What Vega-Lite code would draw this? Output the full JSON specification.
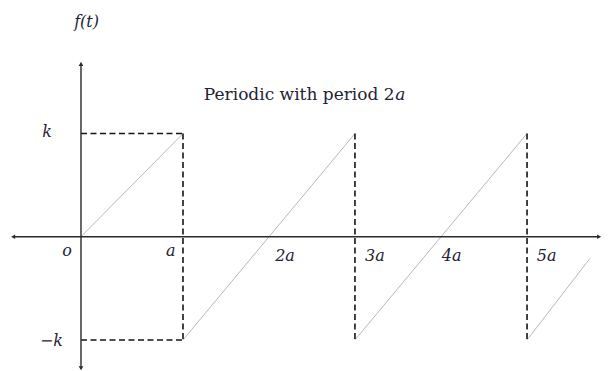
{
  "$schema": "https://vega.github.io/schema/vega-lite/v6.json",
  "width": 612,
  "height": 371,
  "padding": 0,
  "autosize": "none",
  "background": "white",
  "config": {"view": {"stroke": null}},
  "datasets": {
    "axes": [
      {"t": -0.667, "f": 0, "t2": 5.07, "f2": 0},
      {"t": 0, "f": -1.26, "t2": 0, "f2": 1.66}
    ],
    "heads": [
      {"t": 5.08, "f": 0, "dir": "right"},
      {"t": -0.665, "f": 0, "dir": "left"},
      {"t": 0, "f": 1.675, "dir": "up"},
      {"t": 0, "f": -1.275, "dir": "down"}
    ],
    "guides": [
      {"t": 0, "f": 1, "t2": 1, "f2": 1},
      {"t": 1, "f": 1, "t2": 1, "f2": -1},
      {"t": 0, "f": -1, "t2": 1, "f2": -1},
      {"t": 2.686, "f": 1, "t2": 2.686, "f2": -1},
      {"t": 4.373, "f": 1, "t2": 4.373, "f2": -1}
    ],
    "ramps": [
      {"t": 0, "f": 0, "t2": 1, "f2": 1},
      {"t": 1, "f": -1, "t2": 2.686, "f2": 1},
      {"t": 2.686, "f": -1, "t2": 4.373, "f2": 1},
      {"t": 4.373, "f": -1, "t2": 4.99, "f2": -0.21}
    ],
    "ticklabels": [
      {"t": -0.137, "f": -0.14, "label": "o"},
      {"t": 0.879, "f": -0.135, "label": "a"},
      {"t": 2.0, "f": -0.185, "label": "2a"},
      {"t": 2.882, "f": -0.185, "label": "3a"},
      {"t": 3.634, "f": -0.185, "label": "4a"},
      {"t": 4.566, "f": -0.185, "label": "5a"},
      {"t": -0.333, "f": 1.015, "label": "k"},
      {"t": 0.055, "f": 2.08, "label": "f(t)"}
    ],
    "neglabel": [
      {"t": -0.176, "f": -1.01, "label": "−k"}
    ],
    "note": [
      {"t": 3.075, "f": 1.373, "label": "Periodic with period 2"}
    ],
    "notevar": [
      {"t": 3.08, "f": 1.373, "label": "a"}
    ]
  },
  "encoding": {
    "x": {"field": "t", "type": "quantitative", "scale": {"domain": [-0.794, 5.206], "nice": false, "zero": false}, "axis": null},
    "y": {"field": "f", "type": "quantitative", "scale": {"domain": [-1.301, 2.294], "nice": false, "zero": false}, "axis": null}
  },
  "layer": [
    {
      "data": {"name": "ramps"},
      "mark": {"type": "rule", "color": "#b8b8b8", "strokeWidth": 1},
      "encoding": {"x2": {"field": "t2"}, "y2": {"field": "f2"}}
    },
    {
      "data": {"name": "guides"},
      "mark": {"type": "rule", "color": "#151515", "strokeWidth": 1.6, "strokeDash": [6, 3.5]},
      "encoding": {"x2": {"field": "t2"}, "y2": {"field": "f2"}}
    },
    {
      "data": {"name": "axes"},
      "mark": {"type": "rule", "color": "#2a2a2a", "strokeWidth": 1.4},
      "encoding": {"x2": {"field": "t2"}, "y2": {"field": "f2"}}
    },
    {
      "data": {"name": "heads"},
      "mark": {"type": "point", "filled": true, "color": "#2a2a2a", "opacity": 1, "size": 22},
      "encoding": {
        "shape": {"field": "dir", "type": "nominal", "legend": null,
          "scale": {"domain": ["right", "left", "up", "down"], "range": ["triangle-right", "triangle-left", "triangle-up", "triangle-down"]}}
      }
    },
    {
      "data": {"name": "ticklabels"},
      "mark": {"type": "text", "font": "DejaVu Serif", "fontStyle": "italic", "fontSize": 16, "color": "#1f2335", "align": "center", "baseline": "middle"},
      "encoding": {"text": {"field": "label"}}
    },
    {
      "data": {"name": "neglabel"},
      "mark": {"type": "text", "font": "DejaVu Serif", "fontStyle": "italic", "fontSize": 16, "color": "#1f2335", "align": "right", "baseline": "middle"},
      "encoding": {"text": {"field": "label"}}
    },
    {
      "data": {"name": "note"},
      "mark": {"type": "text", "font": "DejaVu Serif", "fontSize": 17, "color": "#1f2335", "align": "right", "baseline": "middle"},
      "encoding": {"text": {"field": "label"}}
    },
    {
      "data": {"name": "notevar"},
      "mark": {"type": "text", "font": "DejaVu Serif", "fontStyle": "italic", "fontSize": 17, "color": "#1f2335", "align": "left", "baseline": "middle"},
      "encoding": {"text": {"field": "label"}}
    }
  ]
}
